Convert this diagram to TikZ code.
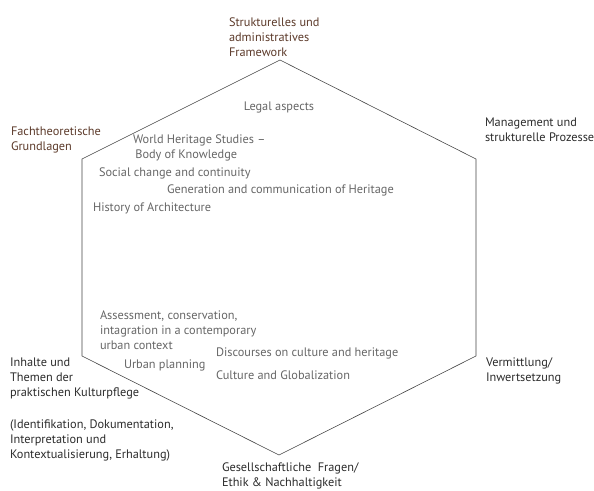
\documentclass[tikz,border=0pt]{standalone}
\usepackage{fontspec}
\setmainfont{PT Sans}
\usetikzlibrary{positioning}
\definecolor{brownlbl}{HTML}{5C3A2A}
\definecolor{darklbl}{HTML}{2B2B2B}
\definecolor{graylbl}{HTML}{666666}
\definecolor{hexline}{HTML}{444444}

\begin{document}
\begin{tikzpicture}[x=0.03cm,y=-0.03cm]
\tikzstyle{every node}=[inner sep=0pt,outer sep=0pt,align=left,font=\fontsize{10.5}{12.8}\selectfont]
\tikzstyle{area}=[anchor=west,text=darklbl]
\tikzstyle{topic}=[anchor=west,text=graylbl]
\useasboundingbox (0,0) rectangle (594,490);
% corners of the hexagon
\coordinate (top) at (280,60);
\coordinate (ur) at (476,159);
\coordinate (lr) at (476,356);
\coordinate (bot) at (279,455);
\coordinate (ll) at (82,356);
\coordinate (ul) at (82,159);
\draw[hexline,line width=0.5pt] (top) -- (ur) -- (lr) -- (bot) -- (ll) -- (ul) -- cycle;

% outer fields
\node[area,text=brownlbl] (struct) at (229,37) {Strukturelles und\\administratives\\Framework};
\node[area,text=brownlbl] (fach) at (11,140) {Fachtheoretische\\Grundlagen};
\node[area] (mgmt) at (485,130) {Management und\\strukturelle Prozesse};
\node[area] (verm) at (486,371) {Vermittlung/\\Inwertsetzung};
\node[area] (ges) at (222,476) {Gesellschaftliche\ \ Fragen/\\Ethik \& Nachhaltigkeit};
\node[area] (inhalt) at (10,378) {Inhalte und\\Themen der\\praktischen Kulturpflege};
\node[area] (ident) at (10,440) {(Identifikation, Dokumentation,\\Interpretation und\\Kontextualisierung, Erhaltung)};

% topics inside
\node[topic,anchor=center] (legal) at (279,107) {Legal aspects};
\node[topic] (whs) at (133,148) {World Heritage Studies --\\\hspace*{2pt}Body of Knowledge};
\node[topic] (social) at (99,173) {Social change and continuity};
\node[topic] (gener) at (167,190) {Generation and communication of Heritage};
\node[topic] (hist) at (93,208) {History of Architecture};
\node[topic] (assess) at (100,330) {Assessment, conservation,\\intagration in a contemporary\\urban context};
\node[topic] (urban) at (124,365) {Urban planning};
\node[topic] (disc) at (216,353) {Discourses on culture and heritage};
\node[topic] (glob) at (216,375) {Culture and Globalization};
\end{tikzpicture}
\end{document}
